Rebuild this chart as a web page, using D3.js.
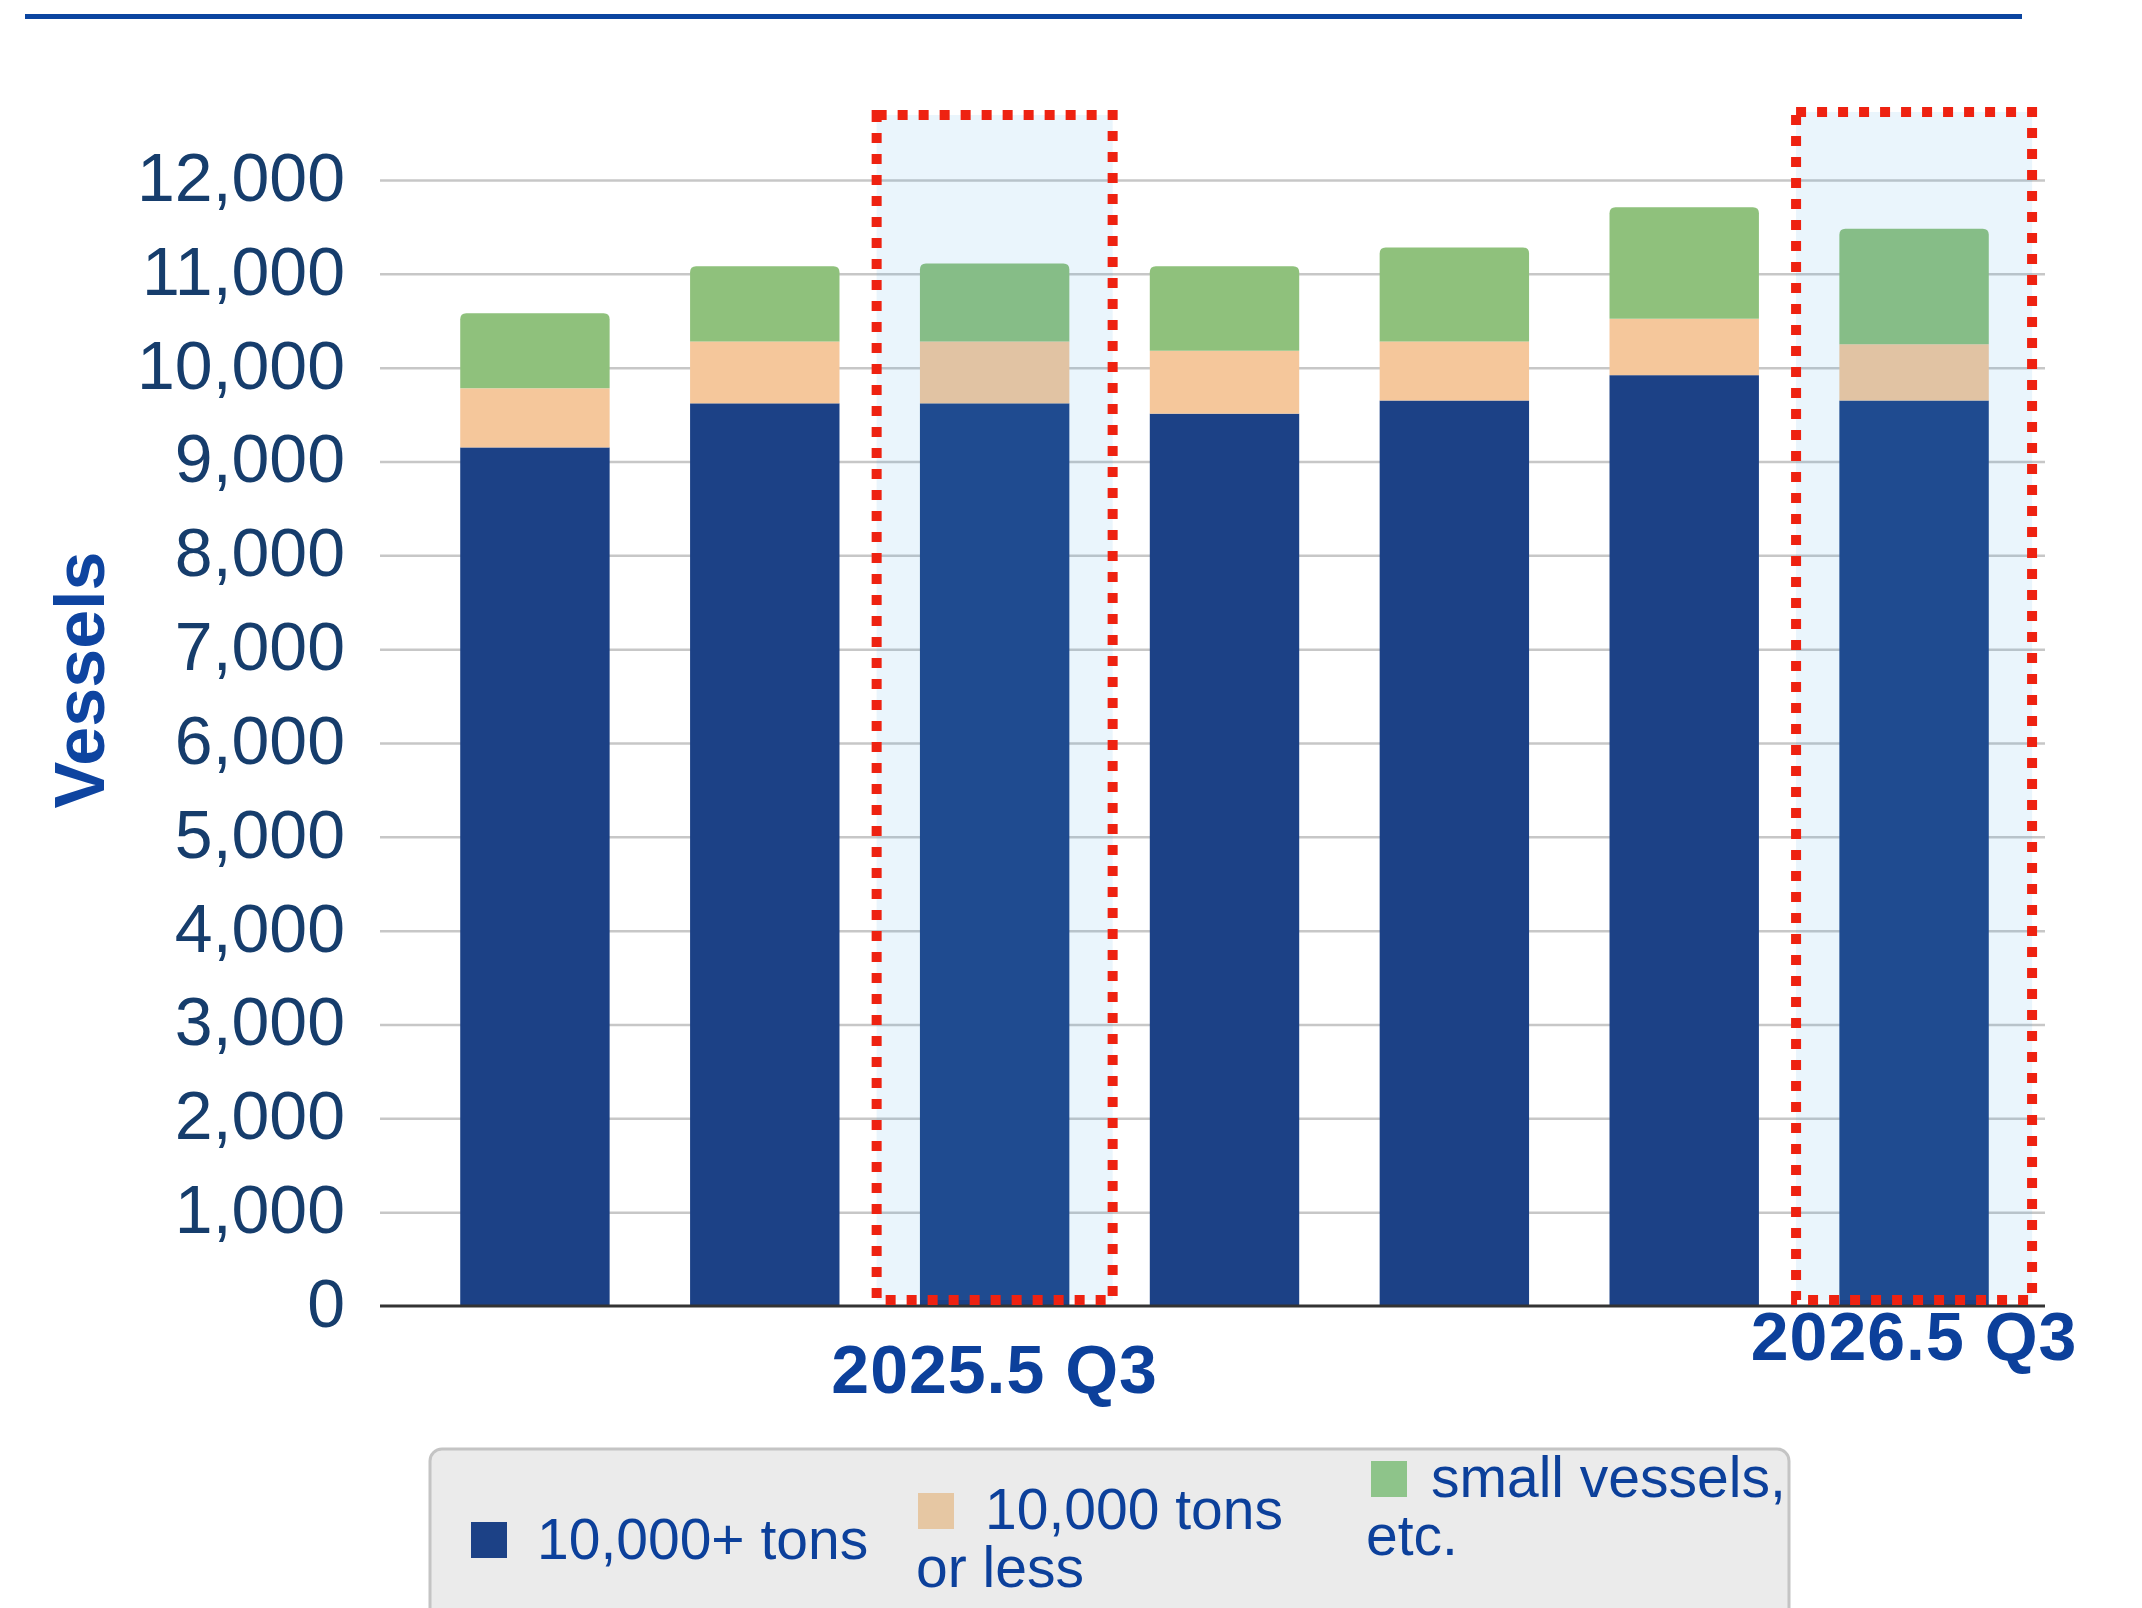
<!DOCTYPE html>
<html>
<head>
<meta charset="utf-8">
<script src="https://cdn.jsdelivr.net/npm/d3@7"></script>
<style>
  html, body { margin: 0; padding: 0; background: #ffffff; }
  svg { display: block; }
</style>
</head>
<body>
<div id="chart"></div>
<script>
// Vessel counts per period, stacked by vessel class
const periods = ["p1", "p2", "p3", "p4", "p5", "p6", "p7"];
const large   = [9150, 9620, 9620, 9510, 9650, 9920, 9650];   // 10,000+ tons
const medium  = [630, 660, 660, 670, 630, 600, 600];          // 10,000 tons or less
const small   = [800, 800, 830, 900, 1000, 1190, 1230];       // small vessels, etc.

const seriesKeys   = ["large", "medium", "small"];
const seriesColors = ["#1c4186", "#f5c79b", "#8fc17c"];
const legendColors = ["#1c4186", "#e6c7a3", "#8ec48a"];
const legendLines  = [["10,000+ tons"], ["10,000 tons", "or less"], ["small vessels,", "etc."]];

const yTicks = [0, 1000, 2000, 3000, 4000, 5000, 6000, 7000, 8000, 9000, 10000, 11000, 12000];

// Highlighted periods and their labels
const highlightIdx    = [2, 6];
const highlightLabels = ["2025.5 Q3", "2026.5 Q3"];

const W = 2142, H = 1608;
const svg = d3.select("#chart").append("svg")
  .attr("width", W).attr("height", H)
  .attr("viewBox", `0 0 ${W} ${H}`);

svg.append("rect").attr("width", W).attr("height", H).attr("fill", "#ffffff");

// Header rule
svg.append("line")
  .attr("x1", 25).attr("x2", 2022).attr("y1", 16.5).attr("y2", 16.5)
  .attr("stroke", "#0b45a0").attr("stroke-width", 5);

const plotLeft = 380, plotRight = 2045;
const y = d3.scaleLinear().domain([0, 12000]).range([1306, 180]);
const x = d3.scaleBand().domain(periods).range([420, 2029])
  .paddingInner(0.35).paddingOuter(0.175);

// Gridlines
const grid = svg.append("g").attr("transform", `translate(${plotLeft},0)`)
  .call(d3.axisLeft(y).tickValues(yTicks.filter(d => d > 0))
    .tickSize(-(plotRight - plotLeft)).tickFormat(""));
grid.select(".domain").remove();
grid.selectAll(".tick line").attr("stroke", "#c7c7c7").attr("stroke-width", 2.5);

// Y tick labels
const yAxis = svg.append("g").attr("transform", `translate(${plotLeft},0)`)
  .call(d3.axisLeft(y).tickValues(yTicks).tickSize(0).tickPadding(35)
    .tickFormat(d3.format(",")));
yAxis.select(".domain").remove();
yAxis.selectAll(".tick text")
  .attr("font-family", "'Liberation Sans', Arial, sans-serif")
  .attr("font-size", 68)
  .attr("fill", "#163d6c")
  .attr("dy", "0.3em");

// Y axis title
svg.append("text")
  .attr("transform", "translate(104,680) rotate(-90)")
  .attr("text-anchor", "middle")
  .attr("font-family", "'Liberation Sans', Arial, sans-serif")
  .attr("font-weight", "bold")
  .attr("font-size", 70)
  .attr("fill", "#0e44a0")
  .text("Vessels");

// Stacked bars
const rows = periods.map((p, i) => ({ period: p, large: large[i], medium: medium[i], small: small[i] }));
const stacked = d3.stack().keys(seriesKeys)(rows);
const r = 6;
stacked.forEach((layer, li) => {
  const g = svg.append("g").attr("fill", seriesColors[li]);
  layer.forEach(seg => {
    const x0 = x(seg.data.period), w = x.bandwidth();
    const yTop = y(seg[1]), yBot = y(seg[0]);
    if (li === seriesKeys.length - 1) {
      // rounded top corners on the topmost segment
      const p = d3.path();
      p.moveTo(x0, yBot);
      p.lineTo(x0, yTop + r);
      p.quadraticCurveTo(x0, yTop, x0 + r, yTop);
      p.lineTo(x0 + w - r, yTop);
      p.quadraticCurveTo(x0 + w, yTop, x0 + w, yTop + r);
      p.lineTo(x0 + w, yBot);
      p.closePath();
      g.append("path").attr("d", p.toString());
    } else {
      g.append("rect").attr("x", x0).attr("y", yTop)
        .attr("width", w).attr("height", yBot - yTop);
    }
  });
});

// Baseline
svg.append("line")
  .attr("x1", plotLeft).attr("x2", plotRight)
  .attr("y1", y(0)).attr("y2", y(0))
  .attr("stroke", "#333333").attr("stroke-width", 3);

// Highlight boxes over selected periods
const boxTops = [115, 112];
highlightIdx.forEach((idx, k) => {
  const cx = x(periods[idx]) + x.bandwidth() / 2;
  svg.append("rect")
    .attr("x", cx - 118).attr("y", boxTops[k])
    .attr("width", 236).attr("height", 1300 - boxTops[k])
    .attr("fill", "rgb(64,164,228)").attr("fill-opacity", 0.11)
    .attr("stroke", "#ee2211").attr("stroke-width", 10)
    .attr("stroke-dasharray", "10 11");
});

// Labels under highlighted periods
const labelBaselines = [1393, 1360];
highlightIdx.forEach((idx, k) => {
  const cx = x(periods[idx]) + x.bandwidth() / 2;
  svg.append("text")
    .attr("x", cx).attr("y", labelBaselines[k])
    .attr("text-anchor", "middle")
    .attr("font-family", "'Liberation Sans', Arial, sans-serif")
    .attr("font-weight", "bold")
    .attr("font-size", 68)
    .attr("letter-spacing", 1)
    .attr("fill", "#0c409b")
    .text(highlightLabels[k]);
});

// Legend
svg.append("rect")
  .attr("x", 430).attr("y", 1449).attr("width", 1359).attr("height", 220)
  .attr("rx", 12)
  .attr("fill", "#ebebeb").attr("stroke", "#c4c4c4").attr("stroke-width", 3);

const legendItems = [
  { sx: 471, sy: 1522, tx: 537, ty: 1559, x2: 537 },
  { sx: 918, sy: 1493, tx: 985, ty: 1529, x2: 916 },
  { sx: 1371, sy: 1461, tx: 1431, ty: 1497, x2: 1366 }
];
legendItems.forEach((it, i) => {
  svg.append("rect").attr("x", it.sx).attr("y", it.sy)
    .attr("width", 36).attr("height", 36).attr("fill", legendColors[i]);
  legendLines[i].forEach((line, j) => {
    svg.append("text")
      .attr("x", j === 0 ? it.tx : it.x2)
      .attr("y", it.ty + j * 58)
      .attr("font-family", "'Liberation Sans', Arial, sans-serif")
      .attr("font-size", 57)
      .attr("fill", "#0c409b")
      .text(line);
  });
});
</script>
</body>
</html>
